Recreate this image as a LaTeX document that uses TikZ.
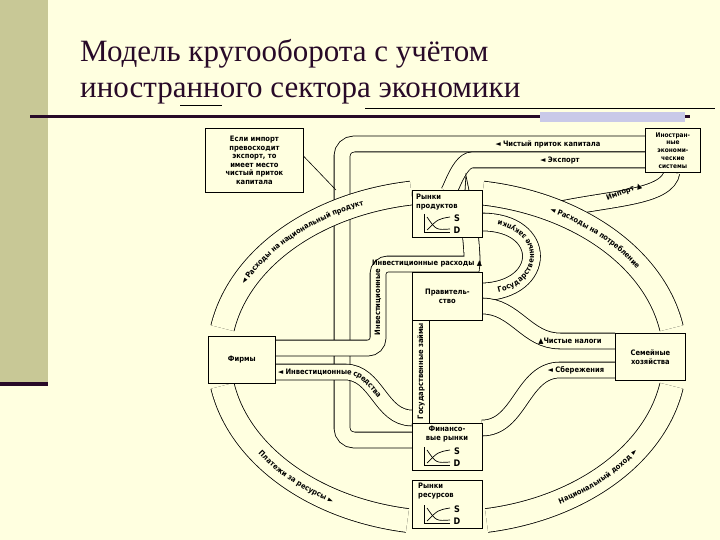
\documentclass[tikz,border=0pt]{standalone}
\usepackage{fontspec}
\setmainfont{Liberation Serif}
\newfontfamily\djc{DejaVu Sans Condensed}
\usetikzlibrary{decorations.text}
\definecolor{bg}{RGB}{255,255,224}
\definecolor{olive}{RGB}{200,200,150}
\definecolor{ttl}{RGB}{40,10,40}
\newcommand\lbl{\djc\bfseries\fontsize{7.5}{8.6}\selectfont}
\newcommand\sdsym[2]{%
\begin{scope}[shift={(#1,#2)},line width=0.7pt]
\draw (0,0) -- (0,18) -- (26,18);
\draw (3,3) .. controls (12,16) .. (26,15);
\draw (3,16) .. controls (14,5) .. (26,3);
\node[font=\djc\bfseries\fontsize{9}{9}\selectfont] at (33,4) {S};
\node[font=\djc\bfseries\fontsize{9}{9}\selectfont] at (33,16) {D};
\end{scope}}
\begin{document}
\begin{tikzpicture}[x=1pt,y=-1pt,
  band/.style={draw=black,line width=0.8pt,double=bg,double distance=15pt},
  bigband/.style={draw=black,line width=0.8pt,double=bg,double distance=23pt},
  box/.style={draw=black,fill=bg,line width=0.8pt,anchor=north west,inner sep=0pt},
  boxtxt/.style={font=\lbl,align=center,inner sep=0pt},
  alongtext/.style={decorate,decoration={text along path,text align=center,raise=-2.6pt,text={#1}}}]
\useasboundingbox (0,0) rectangle (720,540);
\fill[bg] (0,0) rectangle (720,540);
\fill[olive] (0,0) rectangle (48,382);
\fill[ttl] (0,382) rectangle (48,386);
% title
\node[anchor=base west,font=\fontsize{31}{34}\selectfont,text=ttl,inner sep=0pt] (t1) at (80,62) {Модель кругооборота с учётом};
\node[anchor=base west,font=\fontsize{31}{34}\selectfont,text=ttl,inner sep=0pt] (t2) at (80,98) {иностранного сектора экономики};
\fill[ttl] (30,115.5) rectangle (690,118.5);
\fill[gray!60!blue!30] (540,112) rectangle (685,122);
\draw[line width=0.5pt] (365,108) -- (715,108);
\draw[line width=0.5pt] (180,105) -- (222,105);
% inner bands
\draw[band,rounded corners=12pt] (645,144) -| (342,440) -- (412,440);
\draw[band] (645,160) -- (472,160) to[out=180,in=-90] (447,190);
\draw[band] (672,172) .. controls (668,198) and (610,198) .. (556,210);
\draw[band,rounded corners=10pt] (275,348) -| (378,264) -- (462,264) to[out=0,in=90] (470,237);
\draw[band] (275,372) -- (345,372) to[out=0,in=180] (412,418);
\draw[band,double distance=17pt] (482,292) .. controls (548,290) and (548,222) .. (482,222);
\draw[band] (615,341) -- (560,341) to[out=180,in=0] (482,306);
\draw[band] (615,370) -- (560,370) to[out=180,in=0] (482,428);
\draw[band,double distance=16pt] (421,423) -- (421,320);
% big ring
\def\ring{(447,357)}
\draw[bigband] \ring ++(190:228 and 166) arc[start angle=190,end angle=261,x radius=228,y radius=166];
\draw[bigband] \ring ++(279:228 and 166) arc[start angle=279,end angle=350,x radius=228,y radius=166];
\draw[bigband] \ring ++(80:228 and 166) arc[start angle=80,end angle=10,x radius=228,y radius=166];
\draw[bigband] \ring ++(170:228 and 166) arc[start angle=170,end angle=100,x radius=228,y radius=166];
\path[alongtext={|\lbl|◄ Расходы на национальный продукт}] \ring ++(190:228 and 166) arc[start angle=190,end angle=261,x radius=228,y radius=166];
\path[alongtext={|\lbl|◄ Расходы на потребление}] \ring ++(279:228 and 166) arc[start angle=279,end angle=350,x radius=228,y radius=166];
\path[alongtext={|\lbl|Национальный доход ►}] \ring ++(80:228 and 166) arc[start angle=80,end angle=10,x radius=228,y radius=166];
\path[alongtext={|\lbl|Платежи за ресурсы ►}] \ring ++(170:228 and 166) arc[start angle=170,end angle=100,x radius=228,y radius=166];
% band labels
\node[font=\lbl] (l1) at (548,144) {◄ Чистый приток капитала};
\node[font=\lbl] (l2) at (560,160) {◄ Экспорт};
\node[font=\lbl,rotate=20] (l3) at (624,192) {Импорт ▲};
\node[font=\lbl] (l4) at (427,264) {Инвестиционные расходы ▲};
\node[font=\lbl,rotate=90] (l5) at (378,302) {Инвестиционные};
\path[alongtext={|\lbl|Государственные закупки}] (482,292) .. controls (548,290) and (548,222) .. (482,222);
\node[font=\lbl] (l6) at (570,341) {▲Чистые налоги};
\node[font=\lbl] (l7) at (576,370) {◄ Сбережения};
\node[font=\lbl,rotate=90] (l8) at (421,371) {Государственные займы};
\path[decorate,decoration={text along path,text align=left,text align={left indent=3pt},raise=-2.6pt,text={|\lbl|◄ Инвестиционные средства}}] (275,372) -- (345,372) to[out=0,in=180] (412,418);
% boxes
\node[box,minimum width=98pt,minimum height=64pt] (note) at (205,128) {};
\node[boxtxt] (notet) at (note.center) {Если импорт\\превосходит\\экспорт, то\\имеет место\\чистый приток\\капитала};
\coordinate (capj) at (336,190);
\draw[line width=0.6pt] (note.east) ++(0,-4) -- (capj);
\node[box,minimum width=55pt,minimum height=44pt] (for) at (645,128) {};
\node[boxtxt,font=\djc\bfseries\fontsize{6.5}{7.8}\selectfont] (fort) at (for.center) {Иностран-\\ные\\экономи-\\ческие\\системы};
\node[box,minimum width=70pt,minimum height=47pt] (prod) at (412,190) {};
\node[boxtxt,align=left,anchor=north west] (prodt) at (416,194) {Рынки\\продуктов};
\sdsym{424}{214}
\node[box,minimum width=70pt,minimum height=48pt] (gov) at (412,272) {};
\node[boxtxt] (govt) at (gov.center) {Правитель-\\ство};
\node[box,minimum width=67pt,minimum height=47pt] (firm) at (208,336) {};
\node[boxtxt] (firmt) at (firm.center) {Фирмы};
\node[box,minimum width=70pt,minimum height=47pt] (hh) at (615,333) {};
\node[boxtxt] (hht) at (hh.center) {Семейные\\хозяйства};
\node[box,minimum width=70pt,minimum height=47pt] (fin) at (412,423) {};
\node[boxtxt,anchor=north] (fint) at (447,426) {Финансо-\\вые рынки};
\sdsym{424}{447}
\node[box,minimum width=70pt,minimum height=48pt] (res) at (412,480) {};
\node[boxtxt,align=left,anchor=north west] (rest) at (418,483) {Рынки\\ресурсов};
\sdsym{424}{505}
\end{tikzpicture}
\end{document}
